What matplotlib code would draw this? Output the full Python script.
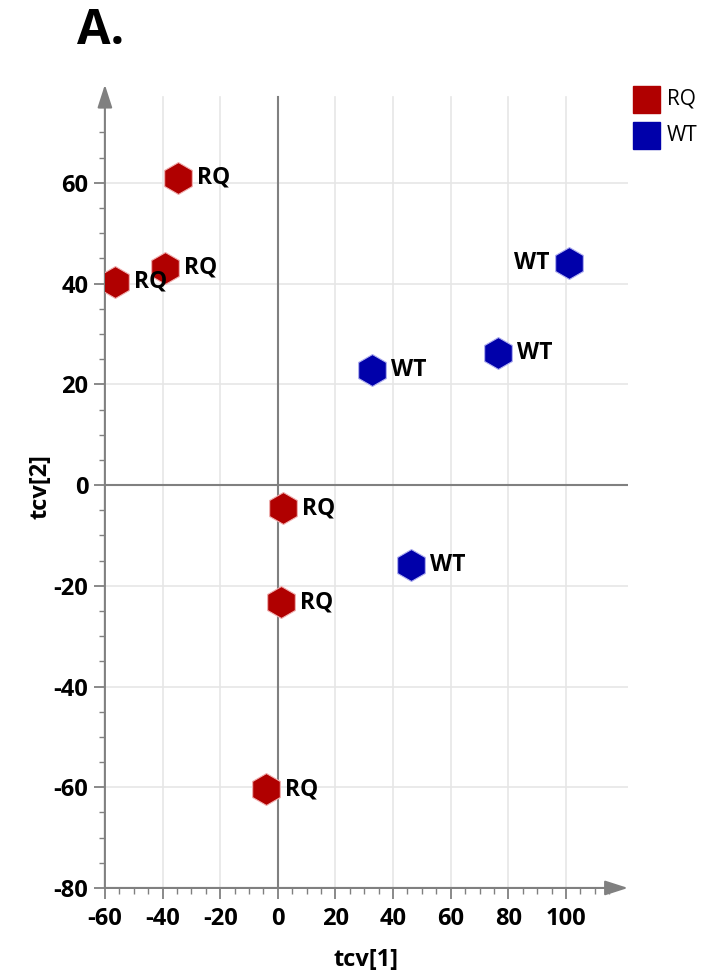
import numpy as np
import matplotlib.pyplot as plt
from matplotlib.patches import Rectangle
from matplotlib.ticker import FixedLocator

plt.rcParams['font.family'] = ['Open Sans', 'DejaVu Sans']
plt.rcParams['axes.unicode_minus'] = False

# score values per sample
rq_x = [-34.7, -39.2, -56.6, 1.7, 1.0, -4.2]
rq_y = [61.0, 43.1, 40.4, -4.6, -23.3, -60.4]
wt_x = [32.6, 76.4, 101.0, 46.2]
wt_y = [22.9, 26.2, 44.1, -15.9]
wt_left = [False, False, True, False]   # label placed left of the point

groups = ['RQ', 'WT']
colors = {'RQ': '#b00000', 'WT': '#0000aa'}
xticks = [-60, -40, -20, 0, 20, 40, 60, 80, 100]
yticks = [-80, -60, -40, -20, 0, 20, 40, 60]

fig = plt.figure(figsize=(7.04, 9.73), dpi=100)
ax = fig.add_axes([0.149, 0.0874, 0.743, 0.8256])
ax.set_xlim(-60, 121.5)
ax.set_ylim(-80, 79.5)

for s in ax.spines.values():
    s.set_visible(False)

gcol = '#e6e6e6'
for v in xticks[1:]:
    ax.axvline(v, color=gcol, lw=1.2, ymax=0.985, zorder=0)
for v in yticks[1:]:
    ax.axhline(v, color=gcol, lw=1.2, zorder=0)
ax.axvline(0, color='#808080', lw=1.5, ymax=0.985, zorder=1)
ax.axhline(0, color='#808080', lw=1.5, zorder=1)

# axis lines with arrows
ax.annotate('', xy=(1.0, 0), xytext=(0, 0), xycoords='axes fraction',
            arrowprops=dict(arrowstyle='-|>,head_length=1.4,head_width=0.45',
                            color='#808080', lw=1.5, shrinkA=0, shrinkB=0),
            annotation_clip=False)
ax.annotate('', xy=(0, 1.0), xytext=(0, 0), xycoords='axes fraction',
            arrowprops=dict(arrowstyle='-|>,head_length=1.4,head_width=0.45',
                            color='#808080', lw=1.5, shrinkA=0, shrinkB=0),
            annotation_clip=False)

ax.set_xticks(xticks)
ax.set_yticks(yticks)
ax.xaxis.set_minor_locator(FixedLocator([v for v in np.arange(-60, 116, 5) if v % 20]))
ax.yaxis.set_minor_locator(FixedLocator([v for v in np.arange(-80, 76, 5) if v % 20]))
ax.tick_params(which='major', length=8, width=1.3, color='#808080',
               labelsize=17, pad=4)
ax.tick_params(axis='x', which='major', pad=6)
ax.tick_params(which='minor', length=4, width=1.0, color='#808080')
for lab in ax.get_xticklabels() + ax.get_yticklabels():
    lab.set_fontweight('bold')

ax.set_xlabel('tcv[1]', fontsize=17, fontweight='bold', labelpad=12)
ax.set_ylabel('tcv[2]', fontsize=17, fontweight='bold', labelpad=1)

ax.scatter(rq_x, rq_y, marker='h', s=530, c=colors['RQ'],
           edgecolors='#f0b0b0', linewidths=0.8, zorder=3)
ax.scatter(wt_x, wt_y, marker='h', s=530, c=colors['WT'],
           edgecolors='#b0b0f0', linewidths=0.8, zorder=3)

for x, y in zip(rq_x, rq_y):
    ax.annotate('RQ', (x, y), xytext=(14, 0), textcoords='offset points',
                ha='left', va='center', fontsize=16.5, fontweight='bold', zorder=4)
for x, y, left in zip(wt_x, wt_y, wt_left):
    off = (-14, 0) if left else (14, 0)
    ax.annotate('WT', (x, y), xytext=off, textcoords='offset points',
                ha='right' if left else 'left', va='center',
                fontsize=16.5, fontweight='bold', zorder=4)

# legend
for i, g in enumerate(groups):
    y0 = 1 - (86 + i * 36) / 973
    fig.patches.append(Rectangle((633 / 704, y0 - 27 / 973), 27 / 704, 27 / 973,
                                 transform=fig.transFigure, color=colors[g]))
    fig.text(667 / 704, y0 - 13.5 / 973, g, fontsize=15, va='center', ha='left')

fig.text(77 / 704, 1 - 31 / 973, 'A.', fontsize=35, fontweight='bold',
         va='center', ha='left')

fig.savefig('out.png', dpi=100)
